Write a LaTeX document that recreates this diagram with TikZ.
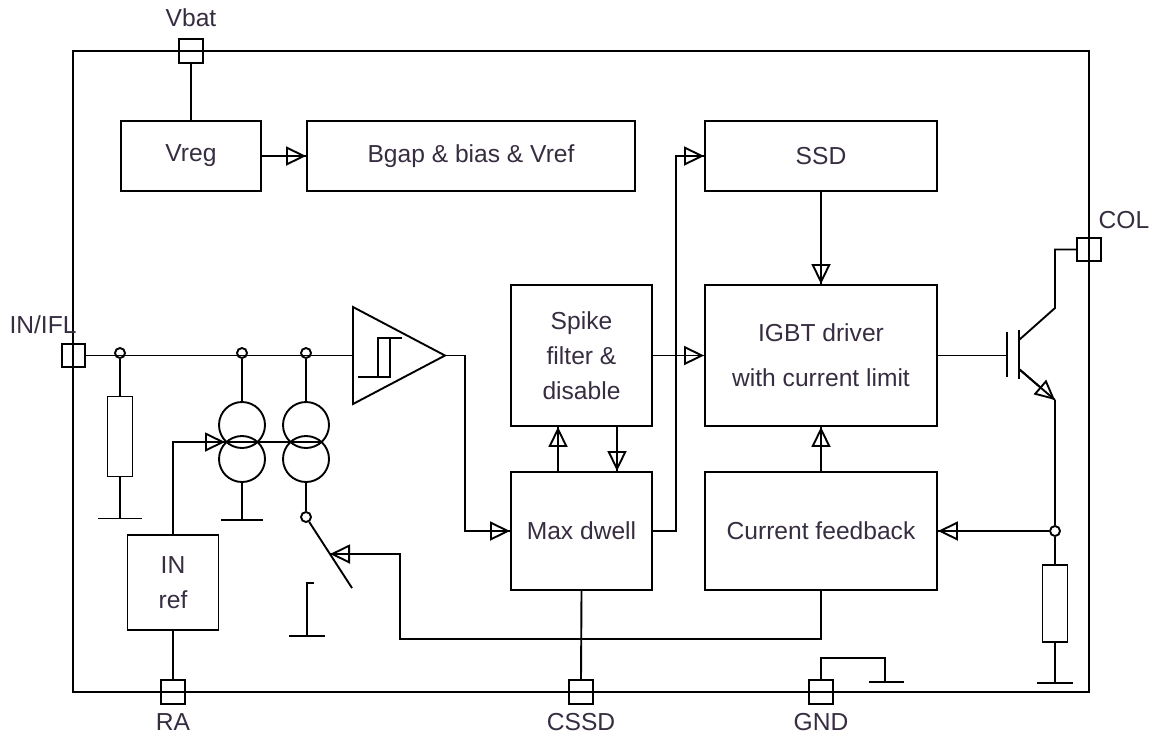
\documentclass[tikz,border=0pt]{standalone}
\usepackage{fontspec}
\setmainfont{Liberation Sans}
\usetikzlibrary{arrows.meta}
\definecolor{txt}{RGB}{55,45,65}

\begin{document}
\begin{tikzpicture}[x=0.2mm,y=-0.2mm,line width=0.38mm,
        font=\fontsize{14}{20}\selectfont,
        blk/.style = {draw, text=txt, align=center, inner sep=0pt},
        pin/.style = {draw, minimum size=4.7mm, inner sep=0pt},
        lbl/.style = {text=txt, inner sep=0pt},
        res/.style = {draw, minimum width=5mm, minimum height=16mm, inner sep=0pt},
        src/.style = {draw, circle, minimum size=9.2mm, inner sep=0pt},
        jn/.style = {draw, circle, minimum size=2mm, inner sep=0pt},
        flow/.style = {postaction={draw, -{Triangle[open, length=4mm, width=3.8mm]}}}]
        \useasboundingbox (0,0) rectangle (1158,748);
        % chip outline and pins
        \draw (73,51) rectangle (1089,692);
        \node[pin] (vbat) at (191,51) {};
        \node[pin] (in) at (73.5,355.5) {};
        \node[pin] (col) at (1089,249.5) {};
        \node[pin] (ra) at (173,692) {};
        \node[pin] (cssd) at (581,692) {};
        \node[pin] (gnd) at (821,692) {};
        \node[lbl] (vbatl) at (191,18) {Vbat};
        \node[lbl] (inl) at (43,325) {IN/IFL};
        \node[lbl] (coll) at (1124,220) {COL};
        \node[lbl] (ral) at (173,722) {RA};
        \node[lbl] (cssdl) at (581,722) {CSSD};
        \node[lbl] (gndl) at (821,722) {GND};
        % blocks
        \node[blk, minimum width=28mm, minimum height=14mm] (vreg) at (191,156) {Vreg};
        \node[blk, minimum width=65.6mm, minimum height=14mm] (bgap) at (471,156) {Bgap \& bias \& Vref};
        \node[blk, minimum width=46.4mm, minimum height=14mm] (ssd) at (821,156) {SSD};
        \node[blk, minimum width=28.2mm, minimum height=28.2mm] (spike) at (581.5,355.5) {Spike\\filter \&\\disable};
        \node[blk, minimum width=46.4mm, minimum height=28.2mm] (igbt) at (821,355.5) {IGBT driver\\[2mm]with current limit};
        \node[blk, minimum width=28.2mm, minimum height=23.6mm] (dwell) at (581.5,531) {Max dwell};
        \node[blk, minimum width=46.4mm, minimum height=23.6mm] (cfb) at (821,531) {Current feedback};
        \node[blk, minimum width=18.2mm, minimum height=19mm] (inref) at (173,582.5) {IN\\ref};
        \draw (vbat.south) -- (vreg.north);
        \draw[flow] (vreg.east) -- (bgap.west);
        \draw[flow] (ssd.south) -- (igbt.north);
        \draw[flow] (cfb.north) -- (igbt.south);
        \draw[flow] (spike.east) -- (igbt.west);
        \draw[flow] (dwell.east) -- ++(23,0) |- (ssd.west);
        \draw[flow] ([xshift=-4.7mm]dwell.north) -- ([xshift=-4.7mm]spike.south);
        \draw[flow] ([xshift=7.1mm]spike.south) -- ([xshift=7.1mm]dwell.north);
        \draw (dwell.south) -- (cssd.north);
        % comparator
        \coordinate (cmp) at (353,355.5);
        \coordinate (cmpo) at (445,355.5);
        \draw (353,307) -- (cmpo) -- (353,404) -- cycle;
        \draw (358,377) -- (390,377) -- (390,338);
        \draw (378,377) -- (378,338) -- (402,338);
        \draw[flow] (cmpo) -- (465,355.5) |- (dwell.west);
        % input network
        \node[jn] (j1) at (120,353) {};
        \node[jn] (j2) at (242,353) {};
        \node[jn] (j3) at (306,353) {};
        \draw (in.east) -- (cmp);
        \node[res] (r1) at (120,436.5) {};
        \draw (j1.south) -- (r1.north);
        \draw (r1.south) -- ++(0,41) coordinate (g1);
        \draw ([xshift=-4.4mm]g1) -- ([xshift=4.4mm]g1);
        \node[src] (cs1a) at (242,425) {};
        \node[src] (cs1b) at (242,459) {};
        \node[src] (cs2a) at (306,425) {};
        \node[src] (cs2b) at (306,459) {};
        \draw (j2.south) -- (cs1a.north);
        \draw (j3.south) -- (cs2a.north);
        \draw (cs1b.south) -- ++(0,37) coordinate (g2);
        \draw ([xshift=-4.2mm]g2) -- ([xshift=4.2mm]g2);
        \coordinate (ctl1) at (225,442);
        \coordinate (ctl2) at (322,442);
        \draw[flow] (inref.north) |- (ctl1);
        \draw (ctl1) -- (ctl2);
        \draw (inref.south) -- (ra.north);
        % switch
        \node[jn] (sw) at (306,517) {};
        \coordinate (swe) at (352,588);
        \coordinate (swa) at (330,554);
        \draw (cs2b.south) -- (sw.north);
        \draw (sw) -- (swe);
        \draw (314,583) -- (307,583) -- (307,636);
        \draw (289,636) -- (325,636);
        \draw[flow] (cfb.south) -- ++(0,48) -| (400,554) -- (swa);
        % IGBT and sense resistor
        \draw (igbt.east) -- (1007,355.5);
        \draw (1007,332) -- (1007,377);
        \draw (1019,330) -- (1019,379);
        \coordinate (c1) at (1019,340);
        \coordinate (c2) at (1055,308);
        \draw (c1) -- (c2) |- (col.west);
        \coordinate (e1) at (1019,369);
        \coordinate (e2) at (1055,400);
        \draw[flow] (e1) -- (e2);
        \node[jn] (fbj) at (1055,531) {};
        \draw (e2) -- (fbj.north);
        \draw[flow] (fbj) -- (cfb.east);
        \node[res, minimum height=15.4mm] (r2) at (1055,603.5) {};
        \draw (fbj.south) -- (r2.north);
        \draw (r2.south) -- ++(0,40) coordinate (g4);
        \draw ([xshift=-3.6mm]g4) -- ([xshift=3.6mm]g4);
        % ground pin
        \draw (gnd.north) -- ++(0,-21) -| (885,682);
        \draw (869,682) -- (904,682);
\end{tikzpicture}
\end{document}
